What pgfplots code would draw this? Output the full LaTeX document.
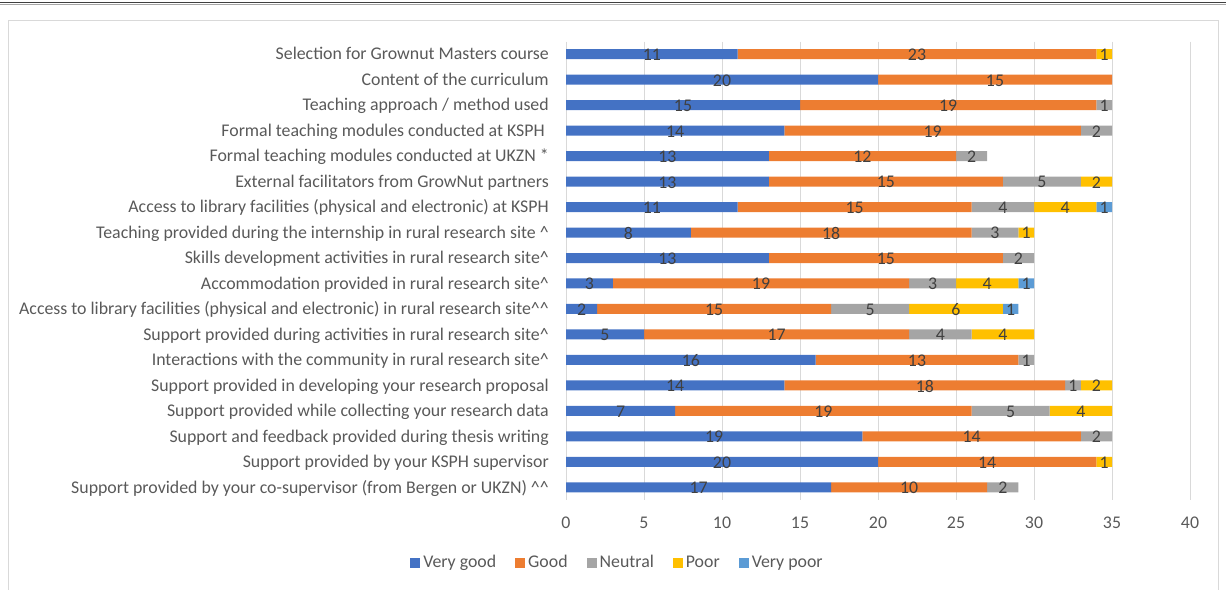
\documentclass[border=0pt]{standalone}
\usepackage{pgfplots}
\pgfplotsset{compat=1.18}
\usepackage{pgfplotstable}
\usepackage{fontspec}
\setmainfont{Carlito}
\definecolor{cVG}{HTML}{4472C4}
\definecolor{cG}{HTML}{ED7D31}
\definecolor{cN}{HTML}{A5A5A5}
\definecolor{cP}{HTML}{FFC000}
\definecolor{cVP}{HTML}{5B9BD5}
\definecolor{gridc}{HTML}{D9D9D9}
\definecolor{lblc}{HTML}{595959}
\definecolor{datc}{HTML}{404040}
\pgfplotstableread{
row vg g n p vp
1 11 23 0 1 0
2 20 15 0 0 0
3 15 19 1 0 0
4 14 19 2 0 0
5 13 12 2 0 0
6 13 15 5 2 0
7 11 15 4 4 1
8 8 18 3 1 0
9 13 15 2 0 0
10 3 19 3 4 1
11 2 15 5 6 1
12 5 17 4 4 0
13 16 13 1 0 0
14 14 18 1 2 0
15 7 19 5 4 0
16 19 14 2 0 0
17 20 14 0 1 0
18 17 10 2 0 0
}\data
\newcommand\fs{\fontsize{17.9}{21}\selectfont}
\pgfplotsset{
  common/.style={
    at={(566bp,-500bp)}, anchor=south west,
    scale only axis, width=624bp, height=458.5bp,
    xmin=0, xmax=40, ymin=0.5, ymax=18.5, y dir=reverse,
    /pgf/number format/assume math mode=true,
  },
  lbl/.style={draw=none, mark=none, point meta=explicit,
    nodes near coords={\pgfmathfloatifflags{\pgfplotspointmeta}{0}{}{\pgfmathprintnumber{\pgfplotspointmeta}}},
    every node near coord/.style={anchor=center, yshift=-0.7bp, font=\fs, color=datc, inner sep=0pt}},
  sq/.style={fill=#1, draw=none,
    legend image code/.code={\fill[#1] (0bp,-5bp) rectangle (10bp,5bp);}},
}
\begin{document}
\begin{tikzpicture}
\useasboundingbox (0,0) rectangle (1226bp,-590bp);
\draw[line width=1.2bp, color=black!75] (0,-2.5bp) -- (1226bp,-2.5bp);
\draw[line width=0.8bp, color=black!35] (0,-4.8bp) -- (1226bp,-4.8bp);
\draw[line width=1bp, color=black!15] (8bp,-600bp) -- (8bp,-20.5bp) -- (1218bp,-20.5bp) -- (1218bp,-600bp);
\begin{axis}[common,
  xbar stacked, bar width=10bp,
  axis line style={draw=none}, major tick length=0pt,
  xtick={0,5,...,40}, xmajorgrids, grid style={color=gridc, line width=0.9bp},
  ytick={1,...,18},
  yticklabels={
    {Selection for Grownut Masters course},
    {Content of the curriculum},
    {Teaching approach / method used},
    {Formal teaching modules conducted at KSPH\ \ },
    {Formal teaching modules conducted at UKZN *},
    {External facilitators from GrowNut partners\ },
    {Access to library facilities (physical and electronic) at KSPH},
    {Teaching provided during the internship in rural research site \textasciicircum},
    {Skills development activities in rural research site\textasciicircum},
    {Accommodation provided in rural research site\textasciicircum},
    {Access to library facilities (physical and electronic) in rural research site\textasciicircum\textasciicircum},
    {Support provided during activities in rural research site\textasciicircum},
    {Interactions with the community in rural research site\textasciicircum},
    {Support provided in developing your research proposal},
    {Support provided while collecting your research data},
    {Support and feedback provided during thesis writing\ },
    {Support provided by your KSPH supervisor},
    {Support provided by your co-supervisor (from Bergen or UKZN) \textasciicircum\textasciicircum},
  },
  yticklabel style={anchor=east, inner xsep=0pt, xshift=-17bp, yshift=-1.5bp, text height=12.5bp, text depth=4bp, font=\fs, color=lblc},
  xticklabel style={anchor=center, yshift=-23bp, font=\fs, color=lblc},
  legend columns=-1,
  legend style={at={(0.0833,-0.1375)}, anchor=center, draw=none, fill=none,
    font=\fs, text=lblc,
    nodes={inner xsep=3bp, inner ysep=2bp, text height=12.5bp, text depth=4bp},
    /tikz/every even column/.append style={column sep=16bp}},
]
\addplot[sq=cVG] table[x=vg, y=row] {\data};
\addplot[sq=cG] table[x=g, y=row] {\data};
\addplot[sq=cN] table[x=n, y=row] {\data};
\addplot[sq=cP] table[x=p, y=row] {\data};
\addplot[sq=cVP] table[x=vp, y=row] {\data};
\legend{Very good, Good, Neutral, Poor, Very poor}
\end{axis}
\begin{axis}[common, hide axis]
\addplot[lbl] table[x expr=\thisrow{vg}/2, y=row, meta=vg] {\data};
\addplot[lbl] table[x expr=\thisrow{vg}+\thisrow{g}/2, y=row, meta=g] {\data};
\addplot[lbl] table[x expr=\thisrow{vg}+\thisrow{g}+\thisrow{n}/2, y=row, meta=n] {\data};
\addplot[lbl] table[x expr=\thisrow{vg}+\thisrow{g}+\thisrow{n}+\thisrow{p}/2, y=row, meta=p] {\data};
\addplot[lbl] table[x expr=\thisrow{vg}+\thisrow{g}+\thisrow{n}+\thisrow{p}+\thisrow{vp}/2, y=row, meta=vp] {\data};
\end{axis}
\end{tikzpicture}
\end{document}
